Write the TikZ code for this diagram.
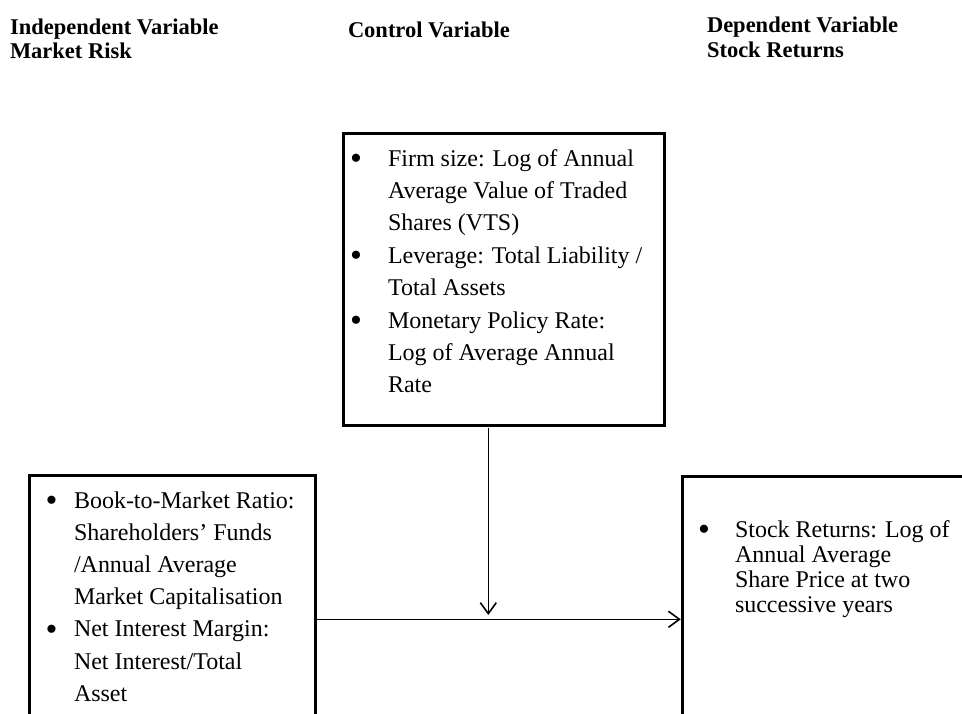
\documentclass[tikz,border=0pt]{standalone}
\usepackage{fontspec}
\setmainfont{Liberation Serif}
\usetikzlibrary{arrows.meta}
\tikzset{
  x=1pt, y=-1pt,
  box/.style={draw=black, line width=3pt, inner sep=0pt, outer sep=0pt, anchor=north west},
  body/.style={anchor=base west, inner sep=0pt, outer sep=0pt, font=\fontsize{24}{32}\selectfont},
  bul/.style={anchor=base, inner sep=0pt, outer sep=0pt, yshift=-3.5pt, font=\fontsize{34}{34}\selectfont},
  head/.style={anchor=base west, inner sep=0pt, outer sep=0pt, font=\fontsize{22.5}{26}\selectfont\bfseries},
  arr/.style={line width=1.6pt, -{Straight Barb[length=11pt,width=16pt,line width=1.6pt]}}
}
\begin{document}
\begin{tikzpicture}
\useasboundingbox (0,0) rectangle (962,713);
\fill[white] (0,0) rectangle (962,713);
\clip (0,0) rectangle (962,713);

% headings
\node[head] (h1a) at (10,34) {Independent Variable};
\node[head] (h1b) at (10,58) {Market Risk};
\node[head] (h2) at (348,37) {Control Variable};
\node[head] (h3a) at (707,32) {Dependent Variable};
\node[head] (h3b) at (707,57) {Stock Returns};

% boxes
\node[box, minimum width=320.7pt, minimum height=292pt] (ctrl) at (343.7,133.3) {};
\node[box, minimum width=285.3pt, minimum height=270pt] (ind) at (29.7,475) {};
\node[box, minimum width=300pt, minimum height=270pt] (dep) at (682.3,476.7) {};

% control box text
\node[bul] (cb1) at (356,166) {•};
\node[body] (c1) at (388,166) {Firm size: Log of Annual};
\node[body] (c2) at (388,198.4) {Average Value of Traded};
\node[body] (c3) at (388,230.8) {Shares (VTS)};
\node[bul] (cb2) at (356,263.2) {•};
\node[body] (c4) at (388,263.2) {Leverage: Total Liability /};
\node[body] (c5) at (388,295.6) {Total Assets};
\node[bul] (cb3) at (356,328) {•};
\node[body] (c6) at (388,328) {Monetary Policy Rate:};
\node[body] (c7) at (388,360.4) {Log of Average Annual};
\node[body] (c8) at (388,392.8) {Rate};

% independent box text
\node[bul] (ib1) at (51.5,508) {•};
\node[body] (i1) at (74,508) {Book-to-Market Ratio:};
\node[body] (i2) at (74,540.2) {Shareholders’ Funds};
\node[body] (i3) at (74,572.4) {/Annual Average};
\node[body] (i4) at (74,604.6) {Market Capitalisation};
\node[bul] (ib2) at (51.5,636.8) {•};
\node[body] (i5) at (74,636.8) {Net Interest Margin:};
\node[body] (i6) at (74,669) {Net Interest/Total};
\node[body] (i7) at (74,701.2) {Asset};

% dependent box text
\node[bul] (db1) at (704,537) {•};
\node[body] (d1) at (735,537) {Stock Returns: Log of};
\node[body] (d2) at (735,562) {Annual Average};
\node[body] (d3) at (735,587) {Share Price at two};
\node[body] (d4) at (735,612) {successive years};

% connectors
\coordinate (vtip) at (488.3,615);
\coordinate (hy) at (0,619.3);
\draw[arr, shorten <=3pt] (ctrl.south -| vtip) -- (vtip);
\draw[arr, shorten >=1.5pt] (ind.east |- hy) -- (dep.west |- hy);
\end{tikzpicture}
\end{document}
